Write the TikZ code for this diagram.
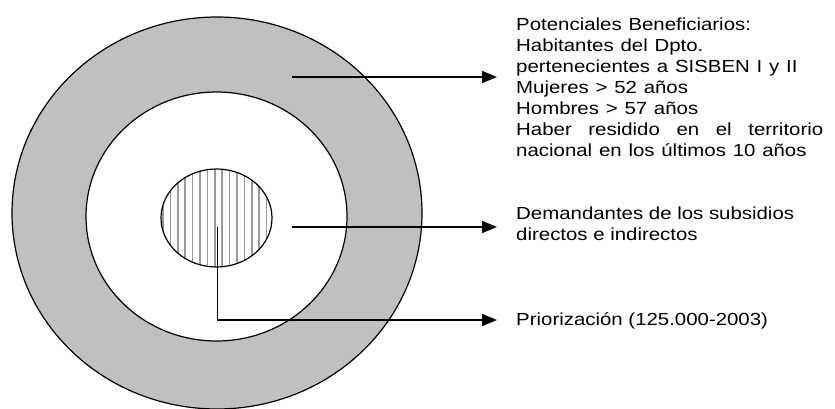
\documentclass[tikz,border=0pt]{standalone}
\usepackage{fontspec}
\setmainfont{Liberation Sans}
\usetikzlibrary{arrows.meta}
\definecolor{ringgray}{HTML}{C0C0C0}
\definecolor{hatchgray}{HTML}{9A9A9A}
\tikzset{
	ring/.style={draw=black, line width=1.2pt},
	pointer/.style={line width=1.4pt, -{Triangle[length=15pt,width=12pt]}, shorten >=19pt},
	info/.style={anchor=base west, inner sep=0pt, align=left, xscale=1.166, transform shape,
		font=\fontsize{17.5}{20.9}\selectfont}
}
\begin{document}
\begin{tikzpicture}[x=1pt,y=-1pt]
		\useasboundingbox (0,0) rectangle (835,409);
		
		\draw[ring, fill=ringgray] (217,213) ellipse [x radius=205pt, y radius=196pt];
		\draw[ring, fill=white] (216.5,216.5) ellipse [x radius=130.5pt, y radius=124.5pt];
		
		\begin{scope}
			\clip (216.5,218) ellipse [x radius=55.5pt, y radius=49pt];
			\foreach \i in {0,...,15}
				\draw[hatchgray, line width=1.6pt] (163+7.4*\i,160) -- ++(0,120);
		\end{scope}
		\draw[ring] (216.5,218) ellipse [x radius=55.5pt, y radius=49pt];
		
		\coordinate (ring-out) at (292,77);
		\coordinate (ring-in) at (292,227);
		\coordinate (core) at (217.5,227);
		\coordinate (core-bend) at (217.5,320);
		\coordinate (text-a) at (516,30.7);
		\coordinate (text-b) at (516,240.5);
		\coordinate (text-c) at (516,325);
		
		\node[info, text width=263.3pt] (potenciales) at (text-a) {Potenciales Beneficiarios:\\
			Habitantes del Dpto.\\
			pertenecientes a SISBEN I y II\\
			Mujeres > 52 años\\
			Hombres > 57 años\\
			\leavevmode\hbox to 263.3pt{Haber\hfill residido\hfill en\hfill el\hfill territorio}\\
			nacional en los últimos 10 años};
		\node[info] (demandantes) at (text-b) {Demandantes de los subsidios\\directos e indirectos};
		\node[info] (priorizacion) at (text-c) {Priorización (125.000-2003)};
		
		\draw[pointer] (ring-out) -- (ring-out -| potenciales.west);
		\draw[pointer] (ring-in) -- (ring-in -| demandantes.west);
		\draw[pointer] (core) -- (core-bend) -- (core-bend -| priorizacion.west);
	\end{tikzpicture}
\end{document}
